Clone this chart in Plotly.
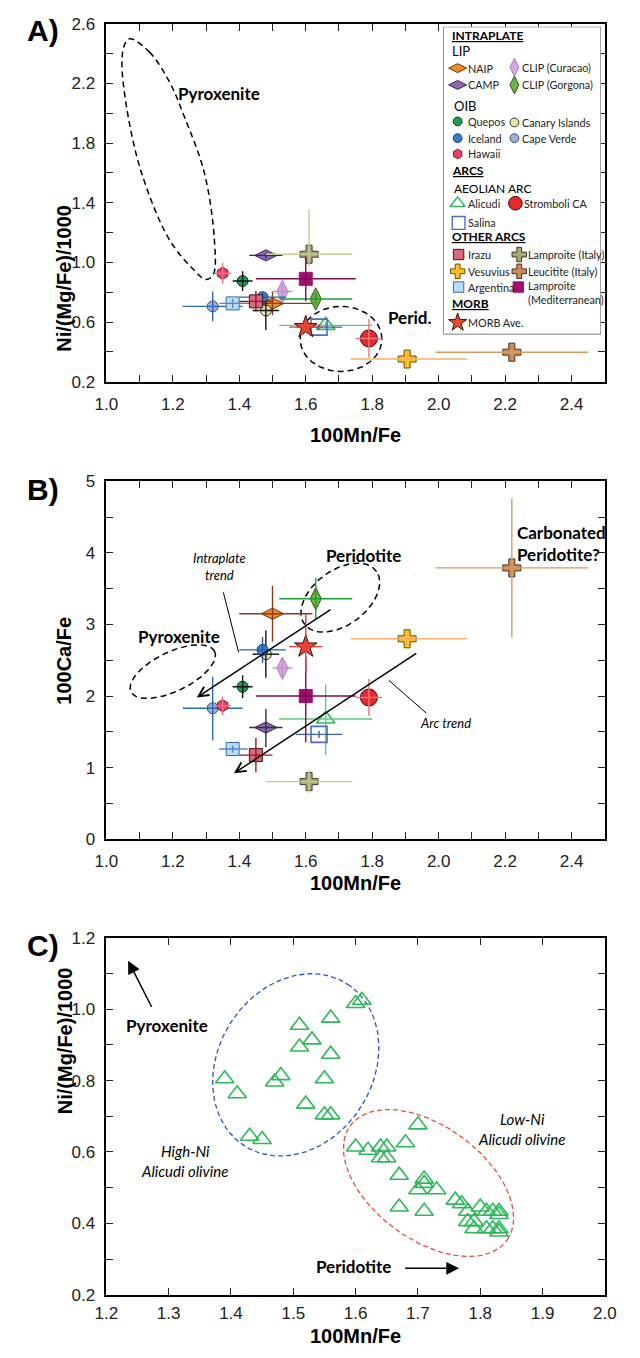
import numpy as np
import plotly.graph_objects as go

W, H = 640, 1358

# ---------------- data (panels A & B) ----------------
SERIES = ["NAIP", "CAMP", "CLIP (Curacao)", "CLIP (Gorgona)", "Quepos", "Canary Islands",
          "Iceland", "Cape Verde", "Hawaii", "Alicudi", "Stromboli CA", "Salina", "Irazu",
          "Lamproite (Italy)", "Vesuvius", "Leucitite (Italy)", "Argentina",
          "Lamproite (Mediterranean)", "MORB Ave."]
MN_FE = [1.50, 1.48, 1.53, 1.63, 1.41, 1.48, 1.47, 1.32, 1.35, 1.66, 1.79, 1.64, 1.45,
         1.61, 1.905, 2.22, 1.38, 1.60, 1.60]
MN_FE_LO = [0.10, 0.05, 0.03, 0.11, 0.03, 0.04, 0.07, 0.09, 0.025, 0.14, 0.04, 0.07, 0.05,
            0.13, 0.17, 0.23, 0.04, 0.15, 0.05]
MN_FE_HI = [0.12, 0.05, 0.03, 0.11, 0.03, 0.04, 0.07, 0.09, 0.025, 0.14, 0.04, 0.07, 0.05,
            0.13, 0.18, 0.23, 0.045, 0.15, 0.05]
NI_MGFE = [0.725, 1.047, 0.805, 0.755, 0.875, 0.677, 0.767, 0.705, 0.927, 0.578, 0.49, 0.566,
           0.739, 1.055, 0.352, 0.398, 0.725, 0.89, 0.566]
NI_LO = [0.08, 0.02, 0.05, 0.04, 0.066, 0.13, 0.03, 0.10, 0.07, 0.02, 0.13, 0.02, 0.07,
         0.08, 0.02, 0.02, 0.03, 0.15, 0.04]
NI_HI = [0.08, 0.02, 0.05, 0.04, 0.066, 0.06, 0.03, 0.10, 0.07, 0.02, 0.13, 0.02, 0.07,
         0.30, 0.02, 0.02, 0.03, 0.15, 0.04]
CA_FE = [3.15, 1.56, 2.39, 3.36, 2.13, 2.585, 2.645, 1.83, 1.865, 1.68, 1.98, 1.465, 1.175,
         0.805, 2.80, 3.79, 1.26, 2.00, 2.69]
CA_LO = [0.39, 0.27, 0.13, 0.28, 0.16, 0.33, 0.18, 0.45, 0.13, 0.50, 0.26, 0.05, 0.24,
         0.16, 0.08, 0.97, 0.05, 0.65, 0.35]
CA_HI = [0.39, 0.26, 0.13, 0.29, 0.16, 0.33, 0.18, 0.44, 0.13, 0.48, 0.26, 0.05, 0.24,
         0.16, 0.08, 0.97, 0.05, 0.55, 0.46]

# ---------------- data (panel C, Alicudi olivine) ----------------
C_MN_FE = [1.39, 1.41, 1.43, 1.45, 1.47, 1.48, 1.51, 1.51, 1.53, 1.52, 1.55, 1.55, 1.56, 1.56,
           1.56, 1.60, 1.61,
           1.60, 1.62, 1.64, 1.65, 1.64, 1.65, 1.68, 1.70, 1.67, 1.67, 1.71, 1.71, 1.70, 1.73,
           1.71, 1.76, 1.77, 1.78, 1.78, 1.79, 1.79, 1.80, 1.81, 1.82, 1.83, 1.83, 1.81, 1.82,
           1.83, 1.83]
C_NI = [0.805, 0.763, 0.644, 0.635, 0.796, 0.814, 0.955, 0.894, 0.914, 0.734, 0.805, 0.704,
        0.704, 0.975, 0.874, 1.016, 1.025,
        0.614, 0.605, 0.614, 0.614, 0.584, 0.584, 0.626, 0.676, 0.535, 0.446, 0.524, 0.512,
        0.494, 0.494, 0.434, 0.465, 0.455, 0.434, 0.405, 0.405, 0.385, 0.446, 0.434, 0.434,
        0.434, 0.425, 0.385, 0.385, 0.385, 0.376]

# ---------------- tick positions / labels ----------------
AB_X_TICKS = [1.0, 1.1, 1.2, 1.3, 1.4, 1.5, 1.6, 1.7, 1.8, 1.9, 2.0, 2.1, 2.2, 2.3, 2.4, 2.5]
AB_X_LABELS = ["1.0", "", "1.2", "", "1.4", "", "1.6", "", "1.8", "", "2.0", "", "2.2", "",
               "2.4", ""]
A_Y_TICKS = [0.2, 0.4, 0.6, 0.8, 1.0, 1.2, 1.4, 1.6, 1.8, 2.0, 2.2, 2.4, 2.6]
A_Y_LABELS = ["0.2", "", "0.6", "", "1.0", "", "1.4", "", "1.8", "", "2.2", "", "2.6"]
B_Y_TICKS = [0, 0.5, 1, 1.5, 2, 2.5, 3, 3.5, 4, 4.5, 5]
B_Y_LABELS = ["0", "", "1", "", "2", "", "3", "", "4", "", "5"]
C_X_TICKS = [1.2, 1.3, 1.4, 1.5, 1.6, 1.7, 1.8, 1.9, 2.0]
C_X_LABELS = ["1.2", "1.3", "1.4", "1.5", "1.6", "1.7", "1.8", "1.9", "2.0"]
C_Y_TICKS = [0.2, 0.3, 0.4, 0.5, 0.6, 0.7, 0.8, 0.9, 1.0, 1.1, 1.2]
C_Y_LABELS = ["0.2", "", "0.4", "", "0.6", "", "0.8", "", "1.0", "", "1.2"]

# ---------------- styles ----------------
STYLE = {
    "NAIP": ("diamond-wide", 16, "#F28C28", "#6A3210", "#8B3A1A"),
    "CAMP": ("diamond-wide", 16, "#8C68B0", "#3D2A5A", "#333333"),
    "CLIP (Curacao)": ("diamond-tall", 16, "#D4A8DC", "#B07CC0", "#C090D0"),
    "CLIP (Gorgona)": ("diamond-tall", 16, "#6DB33F", "#2E5A1A", "#1E9E3A"),
    "Quepos": ("circle", 11, "#1E9E55", "#0A3A1A", "#111111"),
    "Canary Islands": ("circle", 11, "#E5E5A5", "#333333", "#111111"),
    "Iceland": ("circle", 11, "#3A7CC6", "#1A3A6A", "#2060B0"),
    "Cape Verde": ("circle", 11, "#9DB0D8", "#3A4A70", "#2A6AB0"),
    "Hawaii": ("hexagon", 12, "#E8425E", "#7A1A2A", "#F07080"),
    "Alicudi": ("triangle-up-open", 16, "#2CB85A", "#2CB85A", "#5CCB80"),
    "Stromboli CA": ("circle", 17, "#E8282C", "#3A0A0A", "#F07878"),
    "Salina": ("square-open", 16, "#4A6EC0", "#4A6EC0", "#3A60B8"),
    "Irazu": ("square", 13, "#D8687E", "#3A1A1A", "#8B1A2A"),
    "Lamproite (Italy)": ("cross", 15, "#A8A878", "#3A3A2A", "#C8C890"),
    "Vesuvius": ("cross", 15, "#FFC020", "#6A4A00", "#F5B070"),
    "Leucitite (Italy)": ("cross", 15, "#C88E58", "#4A3020", "#D89A60"),
    "Argentina": ("square", 13, "#B4DEF6", "#3A6A9A", "#5A82C8"),
    "Lamproite (Mediterranean)": ("square", 13, "#A0106C", "#A0106C", "#7A0A52"),
    "MORB Ave.": ("star", 17, "#E84A2E", "#3A1010", "#E83A3A"),
}

FONT_T = "Liberation Sans, Arial, sans-serif"
FONT_A = "Lato, Open Sans, sans-serif"

# pixel geometry
X0, X1 = 98, 616
PANELS = {"A": (15, 378), "B": (479, 842), "C": (942, 1304)}


def pdom(top, bot):
    return [1 - bot / H, 1 - top / H]


fig = go.Figure()

axis_common = dict(showline=True, linecolor="black", linewidth=1.5, mirror="ticks",
                   ticks="inside", ticklen=7, tickwidth=1, tickcolor="#222",
                   showgrid=False, zeroline=False, tickmode="array",
                   tickfont=dict(family=FONT_T, size=17, color="#222"))

fig.update_layout(
    width=W, height=H, margin=dict(l=0, r=0, t=0, b=0),
    paper_bgcolor="white", plot_bgcolor="white", showlegend=False,
    xaxis=dict(domain=[X0 / W, X1 / W], range=[1.0, 2.5], anchor="y",
               tickvals=AB_X_TICKS, ticktext=AB_X_LABELS, ticklabelstandoff=6, **axis_common),
    yaxis=dict(domain=pdom(*PANELS["A"]), range=[0.2, 2.6], anchor="x",
               tickvals=A_Y_TICKS, ticktext=A_Y_LABELS, ticklabelstandoff=6, **axis_common),
    xaxis2=dict(domain=[X0 / W, X1 / W], range=[1.0, 2.5], anchor="y2",
                tickvals=AB_X_TICKS, ticktext=AB_X_LABELS, ticklabelstandoff=6, **axis_common),
    yaxis2=dict(domain=pdom(*PANELS["B"]), range=[0, 5], anchor="x2",
                tickvals=B_Y_TICKS, ticktext=B_Y_LABELS, ticklabelstandoff=6, **axis_common),
    xaxis3=dict(domain=[X0 / W, X1 / W], range=[1.2, 2.0], anchor="y3",
                tickvals=C_X_TICKS, ticktext=C_X_LABELS, ticklabelstandoff=2, **axis_common),
    yaxis3=dict(domain=pdom(*PANELS["C"]), range=[0.2, 1.2], anchor="x3",
                tickvals=C_Y_TICKS, ticktext=C_Y_LABELS, ticklabelstandoff=6, **axis_common),
)

# legend subplot (pixel-like coordinates inside the legend box)
LBX0, LBX1, LBY0, LBY1 = 448, 612, 18, 330
fig.update_layout(
    xaxis4=dict(domain=[LBX0 / W, LBX1 / W], range=[0, LBX1 - LBX0], anchor="y4",
                visible=False, fixedrange=True),
    yaxis4=dict(domain=pdom(LBY0, LBY1), range=[LBY1 - LBY0, 0], anchor="x4",
                visible=False, fixedrange=True),
)


def add_series(xa, ya, xs, ys, xlo, xhi, ylo, yhi, name):
    sym, size, fill, line, ecol = STYLE[name]
    open_sym = sym.endswith("open")
    fig.add_trace(go.Scatter(
        x=[xs], y=[ys], mode="markers", xaxis=xa, yaxis=ya, cliponaxis=False,
        marker=dict(symbol=sym, size=size, color=fill,
                    line=dict(color=line, width=1.6 if open_sym else 1)),
        hoverinfo="skip"))
    fig.add_trace(go.Scatter(
        x=[xs], y=[ys], mode="markers", xaxis=xa, yaxis=ya,
        marker=dict(size=1, opacity=0),
        error_x=dict(type="data", symmetric=False, array=[xhi], arrayminus=[xlo],
                     color=ecol, thickness=1.4, width=0),
        error_y=dict(type="data", symmetric=False, array=[yhi], arrayminus=[ylo],
                     color=ecol, thickness=1.4, width=0),
        hoverinfo="skip"))


def ellipse(cx, cy, a, b, theta, sx, sy, n=140):
    t = np.linspace(0, 2 * np.pi, n)
    th = np.radians(theta)
    dx = a * np.cos(t) * np.cos(th) - b * np.sin(t) * np.sin(th)
    dy = a * np.cos(t) * np.sin(th) + b * np.sin(t) * np.cos(th)
    return cx + dx / sx, cy + dy / sy


def dashed(xs, ys, xa, ya, color="black", dash="6px,4px", width=1.5, shape="linear"):
    fig.add_trace(go.Scatter(x=list(xs), y=list(ys), mode="lines", xaxis=xa, yaxis=ya,
                             line=dict(color=color, width=width, dash=dash, shape=shape),
                             hoverinfo="skip"))


# ---------- Panel A ----------
SXA, SYA = (X1 - X0) / 1.5, (PANELS["A"][1] - PANELS["A"][0]) / 2.4
PYX_LOOP_A = [1.071, 1.13, 1.19, 1.236, 1.295, 1.325, 1.322, 1.30, 1.26, 1.189, 1.106, 1.061,
              1.047, 1.055, 1.071]
PYX_LOOP_A_Y = [2.50, 2.41, 2.21, 1.97, 1.60, 1.155, 0.92, 0.885, 0.957, 1.155, 1.60, 2.04,
                2.35, 2.46, 2.50]
dashed(PYX_LOOP_A, PYX_LOOP_A_Y, "x", "y", shape="spline")
ex, ey = ellipse(1.706, 0.487, 42.5, 33, 0, SXA, SYA)
dashed(ex, ey, "x", "y")

for i, nm in enumerate(SERIES):
    add_series("x", "y", MN_FE[i], NI_MGFE[i], MN_FE_LO[i], MN_FE_HI[i], NI_LO[i], NI_HI[i], nm)

# ---------- Panel B ----------
SXB, SYB = (X1 - X0) / 1.5, (PANELS["B"][1] - PANELS["B"][0]) / 5.0
ex, ey = ellipse(1.20, 2.342, 48, 20, 25, SXB, SYB)
dashed(ex, ey, "x2", "y2")
ex, ey = ellipse(1.704, 3.375, 46, 28, 35, SXB, SYB)
dashed(ex, ey, "x2", "y2")

for i, nm in enumerate(SERIES):
    add_series("x2", "y2", MN_FE[i], CA_FE[i], MN_FE_LO[i], MN_FE_HI[i], CA_LO[i], CA_HI[i], nm)

# ---------- Panel C ----------
SXC, SYC = (X1 - X0) / 0.8, (PANELS["C"][1] - PANELS["C"][0]) / 1.0
ex, ey = ellipse(1.504, 0.844, 98, 80, 55, SXC, SYC)
dashed(ex, ey, "x3", "y3", color="#2F55B5", dash="5px,3px", width=1.3)
ex, ey = ellipse(1.717, 0.513, 100, 58, -35, SXC, SYC)
dashed(ex, ey, "x3", "y3", color="#E0503A", dash="5px,3px", width=1.3)
fig.add_trace(go.Scatter(x=C_MN_FE, y=C_NI, mode="markers", xaxis="x3", yaxis="y3",
                         marker=dict(symbol="triangle-up-open", size=16, color="#2CB85A",
                                     line=dict(width=1.6, color="#2CB85A")),
                         hoverinfo="skip"))

# ---------- annotations ----------
ann = []


def txt(text, x, y, xref, yref, size=17, bold=True, italic=False, xanchor="center",
        align="center", family=FONT_A, color="black"):
    t = text
    if italic:
        t = "<i>" + t + "</i>"
    if bold:
        t = "<b>" + t + "</b>"
    ann.append(dict(text=t, x=x, y=y, xref=xref, yref=yref, showarrow=False,
                    xanchor=xanchor, yanchor="middle", align=align,
                    font=dict(family=family, size=size, color=color)))


def arrow(x, y, ax, ay, xref, yref, head=5, size=1.0, width=1.5):
    ann.append(dict(text="", x=x, y=y, ax=ax, ay=ay, xref=xref, yref=yref, axref=xref,
                    ayref=yref, showarrow=True, arrowhead=head, arrowsize=size,
                    arrowwidth=width, arrowcolor="black", standoff=0, startstandoff=0))


# panel letters
for letter, py in (("A)", 22), ("B)", 487), ("C)", 950)):
    txt(letter, 32 / W, 1 - py / H, "paper", "paper", size=30, family="Liberation Sans, Arial",
        bold=True)

# axis titles
for title, py in (("100Mn/Fe", 432), ("100Mn/Fe", 886), ("100Mn/Fe", 1346)):
    txt(title, (X0 + X1) / 2 / W, 1 - py / H, "paper", "paper", size=20,
        family="Liberation Sans, Arial")
for title, (t, b) in (("Ni/(Mg/Fe)/1000", PANELS["A"]), ("100Ca/Fe", PANELS["B"]),
                      ("Ni/(Mg/Fe)/1000", PANELS["C"])):
    ann.append(dict(text="<b>" + title + "</b>", x=41 / W, y=1 - (t + b) / 2 / H, xref="paper",
                    yref="paper", showarrow=False, textangle=-90,
                    font=dict(family="Liberation Sans, Arial", size=20, color="black")))

# panel A text
txt("Pyroxenite", 1.209, 2.13, "x", "y", xanchor="left")
txt("Perid.", 1.841, 0.632, "x", "y", xanchor="left")

# panel B text / arrows
txt("Intraplate<br>trend", 1.339, 3.81, "x2", "y2", size=13, bold=False, italic=True)
txt("Pyroxenite", 1.218, 2.83, "x2", "y2")
txt("Peridotite", 1.774, 3.97, "x2", "y2")
txt("Carbonated<br>Peridotite?", 2.231, 4.13, "x2", "y2", xanchor="left", align="left")
txt("Arc trend", 2.02, 1.62, "x2", "y2", size=13, bold=False, italic=True)
arrow(1.272, 1.98, 1.679, 3.22, "x2", "y2", head=5, size=1.3, width=1.5)
arrow(1.384, 0.92, 1.937, 2.61, "x2", "y2", head=5, size=1.3, width=1.5)

shapes = []
shapes.append(dict(type="line", xref="x2", yref="y2", x0=1.352, y0=3.45, x1=1.398, y1=2.61,
                   line=dict(color="black", width=1)))
shapes.append(dict(type="line", xref="x2", yref="y2", x0=1.85, y0=2.22, x1=1.963, y1=1.76,
                   line=dict(color="black", width=1)))

# panel C text / arrows
txt("Pyroxenite", 1.298, 0.955, "x3", "y3")
txt("Peridotite", 1.596, 0.279, "x3", "y3")
txt("High-Ni<br>Alicudi olivine", 1.326, 0.574, "x3", "y3", size=15, bold=False, italic=True)
txt("Low-Ni<br>Alicudi olivine", 1.866, 0.663, "x3", "y3", size=15, bold=False, italic=True)
arrow(1.235, 1.136, 1.274, 1.002, "x3", "y3", head=2, size=1.7, width=1.5)
arrow(1.766, 0.274, 1.677, 0.274, "x3", "y3", head=2, size=1.7, width=1.5)

# ---------- legend (inside panel A) ----------
shapes.append(dict(type="rect", xref="x4", yref="y4", x0=0, x1=LBX1 - LBX0, y0=0,
                   y1=LBY1 - LBY0, line=dict(color="#555", width=1.2), fillcolor="white",
                   layer="below"))
LEG_HEAD = [("<b><u>INTRAPLATE</u></b>", 7, 9, 12), ("LIP", 7, 25, 13), ("OIB", 9, 80, 13),
            ("<b><u>ARCS</u></b>", 7, 146, 12), ("AEOLIAN ARC", 9, 164, 12),
            ("<b><u>OTHER ARCS</u></b>", 7, 213, 12), ("<b><u>MORB</u></b>", 7, 281, 12)]
for t, lx, ly, sz in LEG_HEAD:
    ann.append(dict(text=t, x=lx, y=ly, xref="x4", yref="y4", showarrow=False, xanchor="left",
                    yanchor="middle", font=dict(family=FONT_A, size=sz, color="black")))

LEG_ITEMS = [("NAIP", 15, 42, 24), ("CLIP (Curacao)", 74, 41, 80), ("CAMP", 15, 59, 24),
             ("CLIP (Gorgona)", 74, 59, 80), ("Quepos", 15, 96, 24),
             ("Canary Islands", 74, 97, 80), ("Iceland", 15, 113, 24),
             ("Cape Verde", 74, 113, 80), ("Hawaii", 15, 129, 24), ("Alicudi", 15, 179, 24),
             ("Stromboli CA", 75, 179, 82), ("Salina", 16, 199, 24), ("Irazu", 16, 231, 24),
             ("Lamproite (Italy)", 79, 231, 86), ("Vesuvius", 15, 248, 24),
             ("Leucitite (Italy)", 79, 248, 86), ("Argentina", 16, 264, 24),
             ("Lamproite (Mediterranean)", 78, 264, 86), ("MORB Ave.", 15, 300, 24)]
LEG_SCALE = 0.8
for nm, mx, my, tx in LEG_ITEMS:
    sym, size, fill, line, ecol = STYLE[nm]
    fig.add_trace(go.Scatter(x=[mx], y=[my], mode="markers", xaxis="x4", yaxis="y4",
                             marker=dict(symbol=sym, size=size * LEG_SCALE, color=fill,
                                         line=dict(color=line,
                                                   width=1.4 if sym.endswith("open") else 1)),
                             hoverinfo="skip"))
    label = "Lamproite<br>(Mediterranean)" if nm == "Lamproite (Mediterranean)" else nm
    ly = my + 6 if nm == "Lamproite (Mediterranean)" else my
    ann.append(dict(text=label, x=tx, y=ly, xref="x4", yref="y4", showarrow=False,
                    xanchor="left", yanchor="middle", align="left",
                    font=dict(family=FONT_A, size=10.8, color="#222")))

fig.update_layout(annotations=ann, shapes=shapes)
fig.write_html("out.html")
